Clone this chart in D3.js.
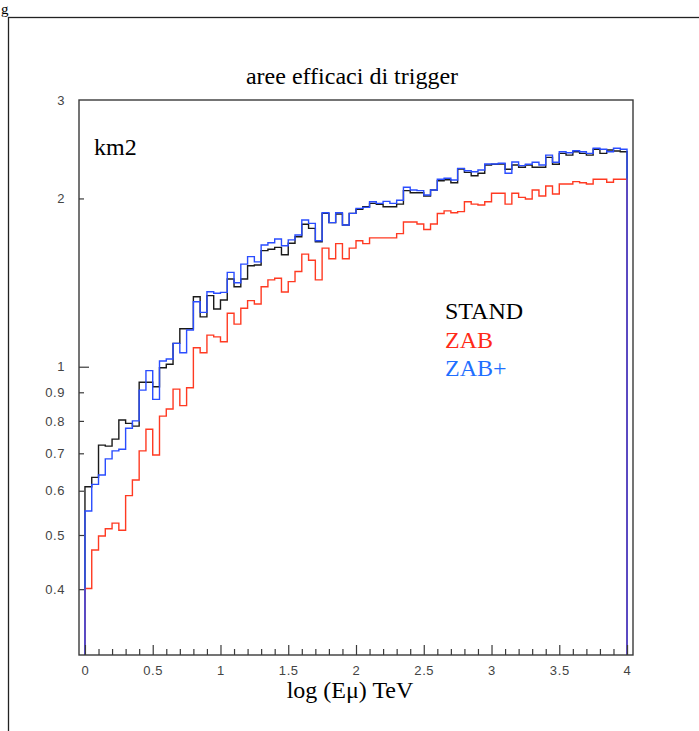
<!DOCTYPE html>
<html>
<head>
<meta charset="utf-8">
<script src="https://cdn.jsdelivr.net/npm/d3@7"></script>
<style>
  html, body { margin: 0; padding: 0; background: #fff; }
  svg { display: block; }
  .serif { font-family: "Liberation Serif", "Times New Roman", serif; }
  .tick text { font-family: "Liberation Sans", Arial, sans-serif; font-size: 13px; fill: #444; letter-spacing: 0.6px; }
</style>
</head>
<body>
<svg id="chart" width="699" height="731"></svg>
<script>
// ---- data (80 bins of width 0.05 in log(E) from 0 to 4) ----
const binEdgesStart = 0;
const binWidth = 0.05;
const stand = [0.61,0.634,0.724,0.721,0.742,0.803,0.792,0.783,0.938,0.938,
  0.921,0.996,1.010,1.101,1.169,1.169,1.334,1.228,1.340,1.268,
  1.316,1.435,1.390,1.435,1.516,1.52,1.613,1.622,1.635,1.586,
  1.663,1.708,1.798,1.768,1.673,1.881,1.810,1.876,1.793,1.881,
  1.912,1.933,1.960,1.952,1.933,1.933,1.954,2.065,2.048,2.048,
  2.020,2.071,2.151,2.16,2.134,2.258,2.227,2.196,2.218,2.295,
  2.302,2.305,2.255,2.295,2.274,2.295,2.274,2.274,2.369,2.302,
  2.408,2.391,2.424,2.408,2.391,2.449,2.408,2.441,2.432,2.424];
const zab = [0.401,0.470,0.498,0.513,0.525,0.510,0.588,0.627,0.707,0.773,
  0.695,0.816,0.840,0.912,0.852,0.917,1.081,1.059,1.139,1.131,
  1.108,1.246,1.192,1.272,1.313,1.295,1.39,1.43,1.44,1.36,
  1.42,1.48,1.59,1.55,1.43,1.63,1.56,1.66,1.56,1.63,
  1.68,1.66,1.70,1.70,1.70,1.70,1.73,1.815,1.815,1.80,
  1.76,1.80,1.88,1.90,1.886,1.894,1.973,1.954,1.947,1.973,
  2.043,2.043,1.954,2.043,2.009,1.995,2.071,2.020,2.105,2.037,
  2.122,2.122,2.143,2.134,2.122,2.164,2.164,2.138,2.164,2.164];
const zabPlus = [0.552,0.616,0.640,0.684,0.707,0.712,0.776,0.800,0.908,0.984,
  0.874,1.024,1.032,1.101,1.059,1.163,1.307,1.251,1.362,1.353,
  1.358,1.475,1.413,1.526,1.574,1.54,1.651,1.666,1.692,1.646,
  1.686,1.720,1.830,1.805,1.680,1.886,1.810,1.886,1.793,1.881,
  1.920,1.928,1.973,1.960,1.976,1.960,1.985,2.094,2.071,2.065,
  2.029,2.071,2.164,2.173,2.158,2.264,2.242,2.233,2.248,2.305,
  2.305,2.312,2.218,2.324,2.289,2.302,2.321,2.295,2.391,2.321,
  2.424,2.414,2.434,2.424,2.408,2.459,2.449,2.424,2.459,2.449];
const seriesNames = ["STAND", "ZAB", "ZAB+"];
const xMajorTicks = [0,0.5,1,1.5,2,2.5,3,3.5,4];
const xTickLabels = ["0","0.5","1","1.5","2","2.5","3","3.5","4"];
const yLabelTicks = [3,2,1,0.9,0.8,0.7,0.6,0.5,0.4];
const yTickLabels = ["3","2","1","0.9","0.8","0.7","0.6","0.5","0.4"];
const yMajorTicks = [1];
const yMinorTicks = [2,0.9,0.8,0.7,0.6,0.5,0.4];
const titleText = "aree efficaci di trigger";
const xTitle = "log (E\u03bc) TeV";
const yUnit = "km2";

// ---- layout ----
const svg = d3.select("#chart");
const L = 79, R = 633, T = 100, B = 655;
const x = d3.scaleLinear().domain([-0.044, 4.044]).range([L, R]);
const y = d3.scaleLog().domain([0.305, 3]).range([B, T]);

// outer frame (right and bottom edges lie outside the picture)
svg.append("rect").attr("x", 8.5).attr("y", 17.5).attr("width", 700).attr("height", 730)
  .attr("fill", "none").attr("stroke", "#222").attr("stroke-width", 1.3);
svg.append("text").attr("class", "serif").attr("x", 1).attr("y", 14)
  .attr("font-size", 15).text("g");

// clip for histograms
svg.append("defs").append("clipPath").attr("id", "clip")
  .append("rect").attr("x", L).attr("y", T).attr("width", R - L).attr("height", B - T);

// histogram paths
function histPath(vals) {
  const pts = [];
  pts.push([x(binEdgesStart), B + 2]);
  vals.forEach((v, i) => {
    const x0 = x(binEdgesStart + i * binWidth), x1 = x(binEdgesStart + (i + 1) * binWidth);
    pts.push([x0, y(v)]);
    pts.push([x1, y(v)]);
  });
  pts.push([x(binEdgesStart + vals.length * binWidth), B + 2]);
  return d3.line()(pts);
}
const colors = ["#1a1a1a", "#ff3a22", "#2a4dff"];
const legendColors = ["#000000", "#ff2a18", "#1f6fff"];
const g = svg.append("g").attr("clip-path", "url(#clip)");
[stand, zab, zabPlus].forEach((s, k) => {
  g.append("path").attr("d", histPath(s)).attr("fill", "none")
    .attr("stroke", colors[k]).attr("stroke-width", 1.4).attr("stroke-linejoin", "miter");
});

// axes frame
svg.append("rect").attr("x", L).attr("y", T).attr("width", R - L).attr("height", B - T)
  .attr("fill", "none").attr("stroke", "#3a3a3a").attr("stroke-width", 1.4);

// x axis: minor ticks
const xMinor = d3.range(0, 41).map(i => i / 10).filter(v => Math.abs(v * 2 - Math.round(v * 2)) > 1e-6);
svg.append("g").attr("transform", `translate(0,${B})`)
  .call(d3.axisBottom(x).tickValues(xMinor).tickSize(-6).tickFormat(""))
  .call(a => a.select(".domain").remove())
  .selectAll("line").attr("stroke", "#3a3a3a").attr("stroke-width", 1.2);
svg.append("g").attr("transform", `translate(0,${B})`)
  .call(d3.axisBottom(x).tickValues(xMajorTicks).tickSize(-10).tickPadding(11)
    .tickFormat((d, i) => xTickLabels[i]))
  .call(a => a.select(".domain").remove())
  .call(a => a.selectAll("line").attr("stroke", "#3a3a3a").attr("stroke-width", 1.2));

// y axis
svg.append("g").attr("transform", `translate(${L},0)`)
  .call(d3.axisLeft(y).tickValues(yMinorTicks).tickSize(-5).tickFormat(""))
  .call(a => a.select(".domain").remove())
  .selectAll("line").attr("stroke", "#3a3a3a").attr("stroke-width", 1.2);
svg.append("g").attr("transform", `translate(${L},0)`)
  .call(d3.axisLeft(y).tickValues(yMajorTicks).tickSize(-10).tickFormat(""))
  .call(a => a.select(".domain").remove())
  .selectAll("line").attr("stroke", "#3a3a3a").attr("stroke-width", 1.2);
svg.append("g").attr("transform", `translate(${L},0)`)
  .call(d3.axisLeft(y).tickValues(yLabelTicks).tickSize(0).tickPadding(14)
    .tickFormat((d, i) => yTickLabels[i]))
  .call(a => a.select(".domain").remove());

// titles
svg.append("text").attr("class", "serif").attr("x", 352).attr("y", 84)
  .attr("text-anchor", "middle").attr("font-size", 24).text(titleText);
svg.append("text").attr("class", "serif").attr("x", 94).attr("y", 155)
  .attr("font-size", 24).text(yUnit);
svg.append("text").attr("class", "serif").attr("x", 350).attr("y", 698)
  .attr("text-anchor", "middle").attr("font-size", 24).text(xTitle);

// legend
const legendY = [319, 347.5, 376];
seriesNames.forEach((n, k) => {
  svg.append("text").attr("class", "serif").attr("x", 445).attr("y", legendY[k])
    .attr("font-size", 24).attr("fill", legendColors[k]).text(n);
});
</script>
</body>
</html>
